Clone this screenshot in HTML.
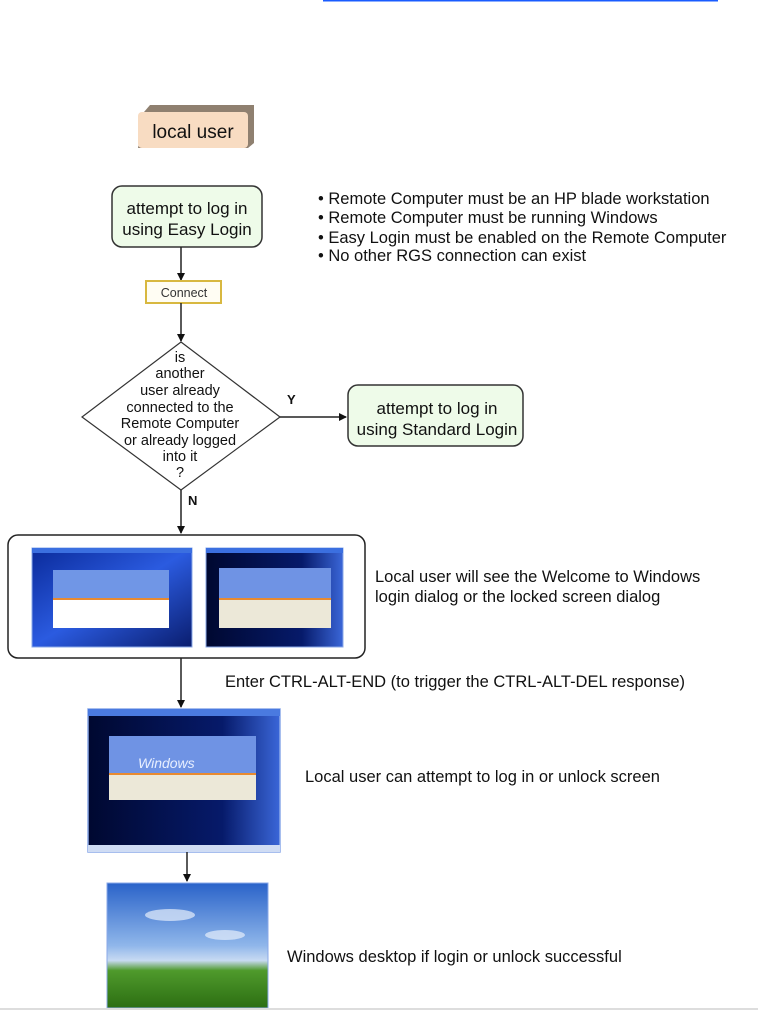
<!DOCTYPE html>
<html><head><meta charset="utf-8"><style>
body{margin:0;background:#fff;width:758px;height:1010px;overflow:hidden}
svg{display:block;font-family:"Liberation Sans",Arial,sans-serif}
</style></head><body>
<svg width="758" height="1010" viewBox="0 0 758 1010" xmlns="http://www.w3.org/2000/svg">
<defs>
<marker id="a" markerWidth="8" markerHeight="8" refX="7" refY="4" orient="auto" markerUnits="userSpaceOnUse"><path d="M0,0 L8,4 L0,8 z" fill="#111"/></marker>
<linearGradient id="sky" x1="0" y1="0" x2="0" y2="1"><stop offset="0" stop-color="#2a63c9"/><stop offset="0.5" stop-color="#8fb6ea"/><stop offset="0.62" stop-color="#c8daf2"/><stop offset="0.7" stop-color="#4f9a2c"/><stop offset="1" stop-color="#2c6e12"/></linearGradient>
<linearGradient id="dk" x1="0" y1="0" x2="1" y2="0"><stop offset="0" stop-color="#000830"/><stop offset="0.7" stop-color="#061a6a"/><stop offset="1" stop-color="#3a66d8"/></linearGradient>
<linearGradient id="bl" x1="0" y1="0" x2="1" y2="1"><stop offset="0" stop-color="#0a2a9a"/><stop offset="0.5" stop-color="#2b5be0"/><stop offset="1" stop-color="#0a1d6e"/></linearGradient>
</defs>
<line x1="323" y1="0.5" x2="718" y2="0.5" stroke="#1a5cff" stroke-width="2"/>
<path d="M144,112 L150,105 L254,105 L254,143 L248,148 L138,148 Z" fill="#8f8070"/>
<rect x="138" y="112" width="110" height="36" rx="4" fill="#f8dcc2"/>
<text x="193" y="138" font-size="19" text-anchor="middle" fill="#111">local user</text>
<rect x="112" y="186" width="150" height="61" rx="10" fill="#eefbe9" stroke="#333" stroke-width="1.5"/>
<text x="187" y="214" font-size="17" text-anchor="middle" fill="#111">attempt to log in</text>
<text x="187" y="235" font-size="17" text-anchor="middle" fill="#111">using Easy Login</text>
<text font-size="16.5" fill="#111"><tspan x="318" y="204">• Remote Computer must be an HP blade workstation</tspan><tspan x="318" y="223">• Remote Computer must be running Windows</tspan><tspan x="318" y="243">• Easy Login must be enabled on the Remote Computer</tspan><tspan x="318" y="261">• No other RGS connection can exist</tspan></text>
<line x1="181" y1="247" x2="181" y2="280" stroke="#222" stroke-width="1.5" marker-end="url(#a)"/>
<rect x="146" y="281" width="75" height="22" fill="#fffdf3" stroke="#d8b840" stroke-width="2"/>
<text x="184" y="297" font-size="12.5" text-anchor="middle" fill="#333">Connect</text>
<line x1="181" y1="303" x2="181" y2="341" stroke="#222" stroke-width="1.5" marker-end="url(#a)"/>
<polygon points="181,342 280,417 181,490 82,417" fill="#fff" stroke="#333" stroke-width="1.2"/>
<g font-size="14.5" text-anchor="middle" fill="#111"><text x="180" y="362">is</text><text x="180" y="378">another</text><text x="180" y="395">user already</text><text x="180" y="412">connected to the</text><text x="180" y="428">Remote Computer</text><text x="180" y="445">or already logged</text><text x="180" y="461">into it</text><text x="180" y="477">?</text></g>
<line x1="280" y1="417" x2="346" y2="417" stroke="#222" stroke-width="1.5" marker-end="url(#a)"/>
<text x="287" y="404" font-size="13" font-weight="bold" fill="#111">Y</text>
<rect x="348" y="385" width="175" height="61" rx="10" fill="#eefbe9" stroke="#333" stroke-width="1.5"/>
<text x="437" y="414" font-size="17" text-anchor="middle" fill="#111">attempt to log in</text>
<text x="437" y="435" font-size="17" text-anchor="middle" fill="#111">using Standard Login</text>
<line x1="181" y1="490" x2="181" y2="533" stroke="#222" stroke-width="1.5" marker-end="url(#a)"/>
<text x="188" y="505" font-size="13" font-weight="bold" fill="#111">N</text>
<rect x="8" y="535" width="357" height="123" rx="10" fill="#fff" stroke="#222" stroke-width="1.5"/>
<rect x="32" y="548" width="160" height="99" fill="url(#bl)" stroke="#8aa8e8"/>
<rect x="32" y="548" width="160" height="5" fill="#3b6fe0"/>
<rect x="53" y="570" width="116" height="38" fill="#7096e6"/>
<rect x="53" y="598" width="116" height="30" fill="#fff"/>
<rect x="53" y="598" width="116" height="2" fill="#e88a30"/>
<rect x="206" y="548" width="137" height="99" fill="url(#dk)" stroke="#8aa8e8"/>
<rect x="206" y="548" width="137" height="5" fill="#3b6fe0"/>
<rect x="219" y="568" width="112" height="38" fill="#6f93e4"/>
<rect x="219" y="598" width="112" height="30" fill="#ece8d8"/>
<rect x="219" y="598" width="112" height="2" fill="#e88a30"/>
<text font-size="16.5" fill="#111"><tspan x="375" y="582">Local user will see the Welcome to Windows</tspan><tspan x="375" y="602">login dialog or the locked screen dialog</tspan></text>
<line x1="181" y1="658" x2="181" y2="707" stroke="#222" stroke-width="1.5" marker-end="url(#a)"/>
<text x="225" y="687" font-size="16.5" fill="#111">Enter CTRL-ALT-END (to trigger the CTRL-ALT-DEL response)</text>
<rect x="88" y="709" width="192" height="143" fill="url(#dk)" stroke="#8aa8e8" stroke-width="1.5"/>
<rect x="88" y="709" width="192" height="7" fill="#4a7ae0"/>
<rect x="88" y="845" width="192" height="7" fill="#cfdcf4"/>
<rect x="109" y="736" width="147" height="38" fill="#6f93e4"/>
<rect x="109" y="773" width="147" height="2" fill="#e88a30"/>
<rect x="109" y="775" width="147" height="25" fill="#ece8d8"/>
<text x="138" y="768" font-size="14" fill="#e8efff" font-style="italic">Windows</text>
<text x="305" y="782" font-size="16.5" fill="#111">Local user can attempt to log in or unlock screen</text>
<line x1="187" y1="852" x2="187" y2="881" stroke="#222" stroke-width="1.5" marker-end="url(#a)"/>
<rect x="107" y="883" width="161" height="125" fill="url(#sky)" stroke="#8aa8e8"/>
<ellipse cx="170" cy="915" rx="25" ry="6" fill="#e6eefb" opacity="0.7"/>
<ellipse cx="225" cy="935" rx="20" ry="5" fill="#e6eefb" opacity="0.7"/>
<text x="287" y="962" font-size="16.5" fill="#111">Windows desktop if login or unlock successful</text>
<line x1="0" y1="1009" x2="758" y2="1009" stroke="#ddd" stroke-width="2"/>
</svg>
</body></html>
